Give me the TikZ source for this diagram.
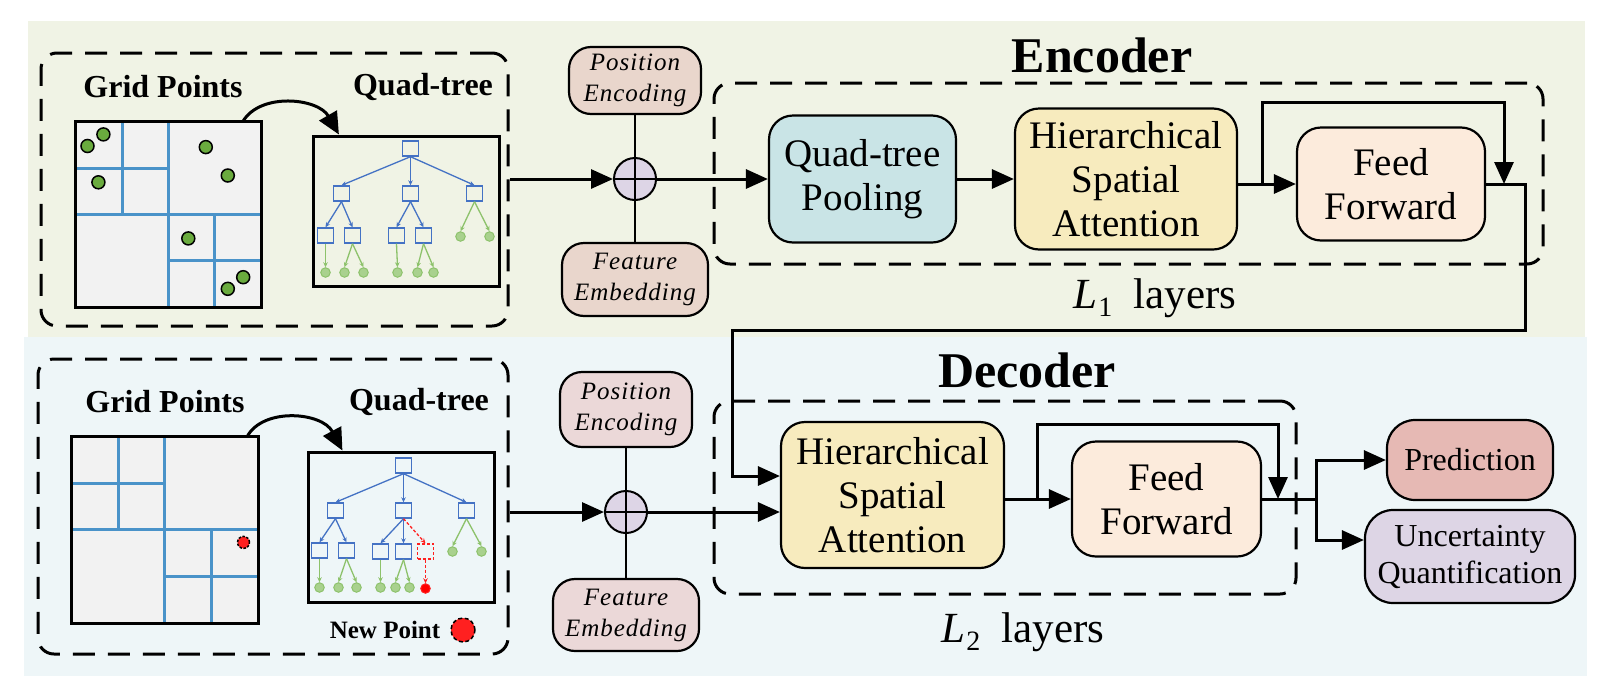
\documentclass[tikz,border=0pt]{standalone}
\usepackage{fontspec}
\setmainfont{Liberation Serif}
\newfontfamily\spacedserif{Liberation Serif}[LetterSpace=4.0]
\usetikzlibrary{arrows.meta,calc}
\definecolor{bgenc}{HTML}{F0F3E5}
\definecolor{bgdec}{HTML}{EEF6F8}
\definecolor{gridfill}{HTML}{F2F2F2}
\definecolor{gridline}{HTML}{4A93C9}
\definecolor{treeblue}{HTML}{4472C4}
\definecolor{leaffill}{HTML}{A9D18E}
\definecolor{leafline}{HTML}{8DC26B}
\definecolor{ptgreen}{HTML}{6AAB3E}
\definecolor{qtpfill}{HTML}{C9E4E6}
\definecolor{hsafill}{HTML}{F7EBBE}
\definecolor{fffill}{HTML}{FCEBDC}
\definecolor{pefillA}{HTML}{E9D6CC}
\definecolor{pefillB}{HTML}{EBD8D8}
\definecolor{plusfill}{HTML}{DDD5E6}
\definecolor{predfill}{HTML}{E6B9B4}
\definecolor{uncfill}{HTML}{DDD5E5}
\definecolor{newred}{HTML}{FF2020}
\newcommand{\layL}[1]{\textit{L}\kern1pt\raisebox{-8pt}{\fontsize{28}{30}\selectfont #1}}
\begin{document}
\begin{tikzpicture}[x=1pt,y=-1pt,
  box/.style={draw, line width=2.2pt, rounded corners=24pt, align=center, inner sep=0pt, font=\fontsize{39}{44}\selectfont},
  smallbox/.style={draw, line width=2.2pt, rounded corners=22pt, align=center, inner sep=0pt, font=\fontsize{25}{31}\selectfont\spacedserif\itshape},
  dbox/.style={draw, line width=3pt, dash pattern=on 22pt off 13pt, rounded corners=16pt, inner sep=0pt},
  arr/.style={line width=3pt, -{Triangle[length=22pt,width=19pt]}},
  conn/.style={line width=3pt},
  plusnode/.style={circle, draw, line width=2pt, fill=plusfill, minimum size=42pt, inner sep=0pt},
  gline/.style={draw=gridline, line width=3pt},
  gpt/.style={fill=ptgreen, draw=black, line width=1.5pt},
  tsq/.style={draw=treeblue, line width=1.4pt, minimum width=16pt, minimum height=15pt, inner sep=0pt},
  rsq/.style={draw=newred, line width=1.4pt, dash pattern=on 3pt off 2pt, minimum width=16pt, minimum height=15pt, inner sep=0pt},
  tleaf/.style={circle, draw=leafline, fill=leaffill, line width=1pt, minimum size=9.5pt, inner sep=0pt},
  rleaf/.style={circle, draw=newred, fill=red, line width=1pt, minimum size=9.5pt, inner sep=0pt},
  tarr/.style={draw=treeblue, line width=1.3pt, -{Stealth[length=5pt,width=4.5pt]}},
  garr/.style={draw=leafline, line width=1.3pt, -{Stealth[length=5pt,width=4.5pt]}},
  rarr/.style={draw=newred, line width=1.3pt, dash pattern=on 3pt off 2pt, -{Stealth[length=5pt,width=4.5pt]}},
  curv/.style={line width=3pt, -{Triangle[length=22pt,width=20pt]}},
  lbl/.style={font=\fontsize{32}{36}\selectfont\bfseries, inner sep=0pt},
  ttl/.style={font=\fontsize{50}{58}\selectfont\bfseries, inner sep=0pt},
  lay/.style={font=\fontsize{43}{48}\selectfont, inner sep=0pt}]
\useasboundingbox (0,0) rectangle (1600,694);
\fill[bgenc] (28,21) rectangle (1585,337);
\fill[bgdec] (24,337) rectangle (1587,676);

% ================= ENCODER =================
\node[dbox, minimum width=467pt, minimum height=273pt] (encL) at (274.5,189.5) {};
\node[lbl] (gp1) at (163,87) {Grid Points};
\node[lbl] (qtt1) at (423,87) {Quad-tree};
\node[fill=gridfill, minimum size=185pt, inner sep=0pt] (grid1) at (168.5,214.5) {};
\begin{scope}[shift={(grid1.north west)}]
  \draw[gline] (46.25,0) -- (46.25,92.5);
  \draw[gline] (92.5,0) -- (92.5,185);
  \draw[gline] (0,46.25) -- (92.5,46.25);
  \draw[gline] (0,92.5) -- (185,92.5);
  \draw[gline] (138.75,92.5) -- (138.75,185);
  \draw[gline] (92.5,138.75) -- (185,138.75);
  \filldraw[gpt] (11.7,24.2) circle[radius=6.5pt];
  \filldraw[gpt] (27.6,12.6) circle[radius=6.5pt];
  \filldraw[gpt] (22.6,60.5) circle[radius=6.5pt];
  \filldraw[gpt] (130,25.3) circle[radius=6.5pt];
  \filldraw[gpt] (152,53.7) circle[radius=6.5pt];
  \filldraw[gpt] (112.5,116.6) circle[radius=6.5pt];
  \filldraw[gpt] (167.4,155.4) circle[radius=6.5pt];
  \filldraw[gpt] (152,167) circle[radius=6.5pt];
\end{scope}
\draw[line width=3pt] (grid1.north west) rectangle (grid1.south east);

\node[draw, line width=3pt, minimum width=186pt, minimum height=150pt, inner sep=0pt] (qt1) at (406,211) {};
\begin{scope}[shift={(qt1.north west)}]
  \node[tsq] (a0) at (99,14) {};
  \node[tsq] (a1) at (30,59) {};
  \node[tsq] (a2) at (99,59) {};
  \node[tsq] (a3) at (163,59) {};
  \node[tsq] (a11) at (14,101) {};
  \node[tsq] (a12) at (41,101) {};
  \node[tsq] (a21) at (85,101) {};
  \node[tsq] (a22) at (112,101) {};
  \node[tleaf] (a31) at (149,102) {};
  \node[tleaf] (a32) at (178,102) {};
  \node[tleaf] (a111) at (14,138) {};
  \node[tleaf] (a121) at (33,138) {};
  \node[tleaf] (a122) at (52,138) {};
  \node[tleaf] (a211) at (86,138) {};
  \node[tleaf] (a221) at (106,138) {};
  \node[tleaf] (a222) at (122,138) {};
\end{scope}
\draw[tarr] (a0.south) -- (a1.north);
\draw[tarr] (a0.south) -- (a2.north);
\draw[tarr] (a0.south) -- (a3.north);
\draw[tarr] (a1.south) -- (a11.north);
\draw[tarr] (a1.south) -- (a12.north);
\draw[tarr] (a2.south) -- (a21.north);
\draw[tarr] (a2.south) -- (a22.north);
\draw[garr] (a3.south) -- (a31.north);
\draw[garr] (a3.south) -- (a32.north);
\draw[garr] (a11.south) -- (a111.north);
\draw[garr] (a12.south) -- (a121.north);
\draw[garr] (a12.south) -- (a122.north);
\draw[garr] (a21.south) -- (a211.north);
\draw[garr] (a22.south) -- (a221.north);
\draw[garr] (a22.south) -- (a222.north);

\coordinate (cs1) at ($(grid1.north west)!0.9!(grid1.north east)$);
\coordinate (ce1) at ($(qt1.north west)!0.145!(qt1.north east)$);
\draw[curv] (cs1) .. controls (260,92) and (318,98) .. (ce1);

% position / feature
\node[plusnode] (plus1) at (635,179) {};
\node[smallbox, fill=pefillA, minimum width=132pt, minimum height=67pt] (pe1) at (635,80.5) {Position\\Encoding};
\node[smallbox, fill=pefillA, minimum width=146pt, minimum height=73pt] (fe1) at (635,279.5) {Feature\\Embedding};
\draw[line width=2pt] (pe1.south) -- (plus1.north);
\draw[line width=2pt] (plus1.south) -- (fe1.north);
\draw[line width=2pt] (plus1.north) -- (plus1.south);
\draw[line width=2pt] (plus1.west) -- (plus1.east);
\draw[arr] (encL.east |- plus1.west) -- (plus1.west);

% encoder block
\node[ttl] (enct) at (1102,55) {Encoder};
\node[dbox, minimum width=829pt, minimum height=181pt] (encB) at (1128.5,173.5) {};
\node[box, fill=qtpfill, minimum width=187pt, minimum height=127pt] (qtp) at (862.5,179) {Quad-tree\\Pooling};
\node[box, fill=hsafill, minimum width=222pt, minimum height=141pt] (hsa1) at (1126,179) {Hierarchical\\Spatial\\Attention};
\node[box, fill=fffill, minimum width=188pt, minimum height=113pt] (ff1) at (1391,184) {Feed\\Forward};
\node[lay] (l1t) at (1155,298) {\layL{1}\ \ layers};
\draw[arr] (plus1.east) -- (qtp.west);
\draw[arr] (qtp.east) -- (hsa1.west);
\draw[arr] (hsa1.east |- ff1.west) -- (ff1.west);
\coordinate (b1) at (1262,184);
\coordinate (t1) at (1504,102);
\coordinate (j1) at (1504,184);
\draw[arr] (b1) |- (t1) -- (j1);
\coordinate (r1) at (1525,330);
\coordinate (lft) at (732,330);
\coordinate (in2) at (0,476);

% ================= DECODER =================
\node[dbox, minimum width=470pt, minimum height=295pt] (decL) at (273,506.5) {};
\node[lbl] (gp2) at (165,402) {Grid Points};
\node[lbl] (qtt2) at (419,402) {Quad-tree};
\node[fill=gridfill, minimum size=186pt, inner sep=0pt] (grid2) at (165,530) {};
\begin{scope}[shift={(grid2.north west)}]
  \draw[gline] (46.5,0) -- (46.5,93);
  \draw[gline] (93,0) -- (93,186);
  \draw[gline] (0,46.5) -- (93,46.5);
  \draw[gline] (0,93) -- (186,93);
  \draw[gline] (139.5,93) -- (139.5,186);
  \draw[gline] (93,139.5) -- (186,139.5);
  \filldraw[fill=newred, draw=black, line width=1.5pt, dash pattern=on 2.5pt off 1.5pt] (171.7,105.6) circle[radius=6pt];
\end{scope}
\draw[line width=3pt] (grid2.north west) rectangle (grid2.south east);

\node[draw, line width=3pt, minimum width=186pt, minimum height=150pt, inner sep=0pt] (qt2) at (401,527) {};
\begin{scope}[shift={(qt2.north west)}]
  \node[tsq] (c0) at (97,15) {};
  \node[tsq] (c1) at (29,60) {};
  \node[tsq] (c2) at (97,60) {};
  \node[tsq] (c3) at (160,60) {};
  \node[tsq] (c11) at (13,100) {};
  \node[tsq] (c12) at (40,100) {};
  \node[tsq] (c21) at (74,101) {};
  \node[tsq] (c22) at (97,101) {};
  \node[rsq] (c23) at (119,101) {};
  \node[tleaf] (c31) at (146,101) {};
  \node[tleaf] (c32) at (175,101) {};
  \node[tleaf] (c111) at (13,137) {};
  \node[tleaf] (c121) at (32,137) {};
  \node[tleaf] (c122) at (50,137) {};
  \node[tleaf] (c211) at (74,137) {};
  \node[tleaf] (c221) at (89,137) {};
  \node[tleaf] (c222) at (103,137) {};
  \node[rleaf] (c231) at (119,138) {};
\end{scope}
\draw[tarr] (c0.south) -- (c1.north);
\draw[tarr] (c0.south) -- (c2.north);
\draw[tarr] (c0.south) -- (c3.north);
\draw[tarr] (c1.south) -- (c11.north);
\draw[tarr] (c1.south) -- (c12.north);
\draw[tarr] (c2.south) -- (c21.north);
\draw[tarr] (c2.south) -- (c22.north);
\draw[rarr] (c2.south) -- (c23.north);
\draw[garr] (c3.south) -- (c31.north);
\draw[garr] (c3.south) -- (c32.north);
\draw[garr] (c11.south) -- (c111.north);
\draw[garr] (c12.south) -- (c121.north);
\draw[garr] (c12.south) -- (c122.north);
\draw[garr] (c21.south) -- (c211.north);
\draw[garr] (c22.south) -- (c221.north);
\draw[garr] (c22.south) -- (c222.north);
\draw[rarr] (c23.south) -- (c231.north);

\coordinate (cs2) at ($(grid2.north west)!0.94!(grid2.north east)$);
\coordinate (ce2) at ($(qt2.north west)!0.19!(qt2.north east)$);
\draw[curv] (cs2) .. controls (263,407) and (322,412) .. (ce2);

\node[font=\fontsize{25}{30}\selectfont\bfseries, inner sep=0pt] (np) at (385,630) {New Point};
\node[circle, fill=newred, draw=black, line width=1.5pt, dash pattern=on 4pt off 2.5pt, minimum size=24pt, inner sep=0pt] (npc) at (463,630) {};

% position / feature
\node[plusnode] (plus2) at (626,512) {};
\node[smallbox, fill=pefillB, minimum width=132pt, minimum height=75pt] (pe2) at (626,409.5) {Position\\Encoding};
\node[smallbox, fill=pefillB, minimum width=146pt, minimum height=72pt] (fe2) at (626,615) {Feature\\Embedding};
\draw[line width=2pt] (pe2.south) -- (plus2.north);
\draw[line width=2pt] (plus2.south) -- (fe2.north);
\draw[line width=2pt] (plus2.north) -- (plus2.south);
\draw[line width=2pt] (plus2.west) -- (plus2.east);
\draw[arr] (decL.east |- plus2.west) -- (plus2.west);

% decoder block
\node[ttl] (dect) at (1027,370) {Decoder};
\node[dbox, minimum width=582pt, minimum height=193pt] (decB) at (1005,497.5) {};
\node[box, fill=hsafill, minimum width=223pt, minimum height=146pt] (hsa2) at (892.5,495) {Hierarchical\\Spatial\\Attention};
\node[box, fill=fffill, minimum width=189pt, minimum height=115pt] (ff2) at (1166.5,499) {Feed\\Forward};
\node[lay] (l2t) at (1023,632) {\layL{2}\ \ layers};
\node[box, fill=predfill, rounded corners=28pt, minimum width=166pt, minimum height=80pt, font=\fontsize{32}{37}\selectfont] (pred) at (1470,460) {Prediction};
\node[box, fill=uncfill, rounded corners=28pt, minimum width=210pt, minimum height=93pt, font=\fontsize{32}{37}\selectfont] (unc) at (1470,556.5) {Uncertainty\\Quantification};

\draw[arr] (plus2.east) -- (hsa2.west |- plus2.east);
\draw[arr] (ff1.east) -| (r1) -- (lft) |- (hsa2.west |- in2);
\draw[arr] (hsa2.east |- ff2.west) -- (ff2.west);
\coordinate (b2) at (1037,499);
\coordinate (t2) at (1278,424);
\coordinate (j2) at (1278,499);
\draw[arr] (b2) |- (t2) -- (j2);
\coordinate (o2) at (1316,499);
\coordinate (u2) at (0,540);
\draw[conn] (ff2.east) -- (o2);
\draw[arr] (o2) |- (pred.west);
\draw[arr] (o2) |- (unc.west |- u2);
\end{tikzpicture}
\end{document}
